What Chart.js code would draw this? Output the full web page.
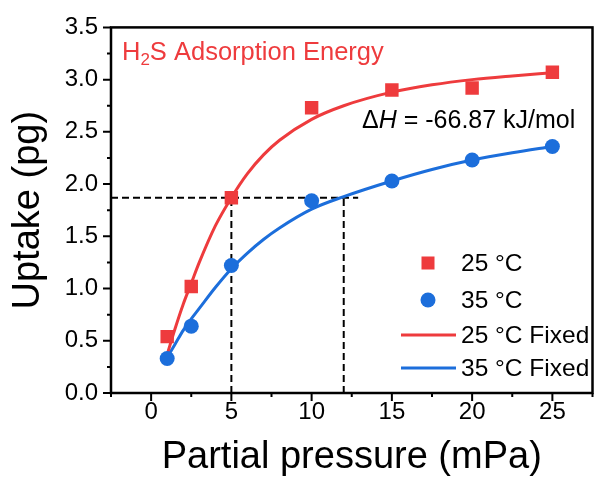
<!DOCTYPE html>
<html>
<head>
<meta charset="utf-8">
<script src="https://cdn.jsdelivr.net/npm/chart.js@4.4.1/dist/chart.umd.min.js"></script>
<style>
  html, body { margin: 0; padding: 0; background: #fff; }
  #wrap { width: 602px; height: 480px; position: relative; }
</style>
</head>
<body>
<div id="wrap"><canvas id="uptake-chart"></canvas></div>
<script>
// isoterme H2S a 25 e 35 gradi: punti misurati + curva di fit
const pressure = [1, 2.5, 5, 10, 15, 20, 25];
const uptake25 = [0.54, 1.02, 1.87, 2.73, 2.90, 2.92, 3.07];
const uptake35 = [0.33, 0.64, 1.22, 1.84, 2.03, 2.23, 2.36];

const fitPressure = [1, 1.5, 2, 2.5, 3, 4, 5, 6, 7, 8, 10, 12, 15, 17.5, 20, 22.5, 25];
const fit25 = [0.37, 0.62, 0.85, 1.05, 1.25, 1.60, 1.87, 2.10, 2.28, 2.42, 2.62, 2.75, 2.88, 2.95, 3.00, 3.035, 3.065];
const fit35 = [0.34, 0.47, 0.60, 0.71, 0.81, 1.01, 1.19, 1.34, 1.47, 1.58, 1.76, 1.88, 2.03, 2.14, 2.23, 2.30, 2.36];

// linee tratteggiate di riferimento (stesso uptake a 5 e 12 mPa)
const guideLevel = 1.87;
const guideH = { x: [-2.5, 12.9], y: [guideLevel, guideLevel] };
const guide5 = { x: [5, 5], y: [0, guideLevel] };
const guide12 = { x: [12, 12], y: [0, guideLevel] };

const xTicks = [0, 5, 10, 15, 20, 25];
const yTicks = [0, 0.5, 1.0, 1.5, 2.0, 2.5, 3.0, 3.5];

const RED = '#ee3b3d';
const BLUE = '#1c6edb';
const FONT = 'Arial, "Liberation Sans", sans-serif';

function pts(xs, ys) { return xs.map((x, i) => ({ x: x, y: ys[i] })); }

// cornice, tacche maggiori/minori, legenda e testi dentro il grafico
const decorPlugin = {
  id: 'decor',
  afterDraw(chart) {
    const ctx = chart.ctx;
    const a = chart.chartArea;
    const sx = chart.scales.x, sy = chart.scales.y;
    ctx.save();
    ctx.strokeStyle = '#000';
    ctx.lineWidth = 2.5;
    ctx.strokeRect(a.left, a.top, a.right - a.left, a.bottom - a.top);

    ctx.lineWidth = 2;
    ctx.beginPath();
    for (let v = -2.5; v <= 27.5; v += 2.5) {
      const px = sx.getPixelForValue(v);
      const len = (v % 5 === 0) ? 8 : 4;
      ctx.moveTo(px, a.bottom); ctx.lineTo(px, a.bottom + len);
    }
    for (let i = 0; i <= 14; i++) {
      const v = i * 0.25;
      const py = sy.getPixelForValue(v);
      const len = (i % 2 === 0) ? 8 : 4;
      ctx.moveTo(a.left, py); ctx.lineTo(a.left - len, py);
    }
    ctx.stroke();

    // titolo interno H2S
    ctx.fillStyle = RED;
    ctx.textBaseline = 'alphabetic';
    ctx.font = '25.5px ' + FONT;
    let tx = a.left + 11, ty = 60;
    ctx.fillText('H', tx, ty);
    tx += ctx.measureText('H').width;
    ctx.font = '17px ' + FONT;
    ctx.fillText('2', tx, ty + 5);
    tx += ctx.measureText('2').width;
    ctx.font = '25.5px ' + FONT;
    ctx.fillText('S Adsorption Energy', tx, ty);

    // entalpia
    ctx.fillStyle = '#000';
    tx = 362; ty = 128;
    ctx.font = '25px ' + FONT;
    ctx.fillText('\u0394', tx, ty);
    tx += ctx.measureText('\u0394').width;
    ctx.font = 'italic 25px ' + FONT;
    ctx.fillText('H', tx, ty);
    tx += ctx.measureText('H').width;
    ctx.font = '25px ' + FONT;
    ctx.fillText(' = -66.87 kJ/mol', tx, ty);

    // legenda
    const lx = 461, mx = 428;
    ctx.font = '24.5px ' + FONT;
    ctx.textBaseline = 'middle';
    ctx.fillStyle = RED;
    ctx.fillRect(mx - 6.5, 263 - 6.5, 13, 13);
    ctx.fillStyle = BLUE;
    ctx.beginPath(); ctx.arc(mx, 300, 7.5, 0, Math.PI * 2); ctx.fill();
    ctx.lineWidth = 3;
    ctx.strokeStyle = RED;
    ctx.beginPath(); ctx.moveTo(401, 335); ctx.lineTo(456, 335); ctx.stroke();
    ctx.strokeStyle = BLUE;
    ctx.beginPath(); ctx.moveTo(401, 368); ctx.lineTo(456, 368); ctx.stroke();
    ctx.fillStyle = '#000';
    ctx.fillText('25 \u00b0C', lx, 264);
    ctx.fillText('35 \u00b0C', lx, 301);
    ctx.fillText('25 \u00b0C Fixed', lx, 336);
    ctx.fillText('35 \u00b0C Fixed', lx, 369);
    ctx.restore();
  }
};

const dashed = {
  type: 'line', borderColor: '#000', borderWidth: 2, borderDash: [7, 4],
  pointRadius: 0, fill: false, order: 3
};

new Chart(document.getElementById('uptake-chart'), {
  data: {
    datasets: [
      { type: 'scatter', label: '25 °C', data: pts(pressure, uptake25),
        pointStyle: 'rect', pointRadius: 9.5, backgroundColor: RED, borderWidth: 0, order: 0 },
      { type: 'scatter', label: '35 °C', data: pts(pressure, uptake35),
        pointStyle: 'circle', pointRadius: 7.5, backgroundColor: BLUE, borderWidth: 0, order: 0 },
      { type: 'line', label: '25 °C Fixed', data: pts(fitPressure, fit25),
        borderColor: RED, borderWidth: 3, pointRadius: 0, cubicInterpolationMode: 'monotone', order: 1 },
      { type: 'line', label: '35 °C Fixed', data: pts(fitPressure, fit35),
        borderColor: BLUE, borderWidth: 3, pointRadius: 0, cubicInterpolationMode: 'monotone', order: 1 },
      Object.assign({ data: pts(guideH.x, guideH.y) }, dashed),
      Object.assign({ data: pts(guide5.x, guide5.y) }, dashed),
      Object.assign({ data: pts(guide12.x, guide12.y) }, dashed)
    ]
  },
  options: {
    responsive: true,
    maintainAspectRatio: false,
    animation: false,
    layout: { padding: { top: 27, right: 5, left: 0, bottom: 0 } },
    plugins: { legend: { display: false }, tooltip: { enabled: false } },
    scales: {
      x: {
        type: 'linear', min: -2.5, max: 27.5,
        afterBuildTicks: s => { s.ticks = xTicks.map(v => ({ value: v })); },
        afterFit: s => { s.height = 87; },
        grid: { display: false, drawTicks: false },
        border: { display: false },
        ticks: { color: '#000', font: { family: FONT, size: 24 }, padding: 5, maxRotation: 0 },
        title: { display: true, text: 'Partial pressure (mPa)', color: '#000',
                 font: { family: FONT, size: 38 }, padding: { top: 0, bottom: 0 } }
      },
      y: {
        type: 'linear', min: 0, max: 3.5,
        afterBuildTicks: s => { s.ticks = yTicks.map(v => ({ value: v })); },
        afterFit: s => { s.width = 111; },
        grid: { display: false, drawTicks: false },
        border: { display: false },
        ticks: { color: '#000', font: { family: FONT, size: 24 }, padding: 13,
                 callback: v => Number(v).toFixed(1) },
        title: { display: true, text: 'Uptake (pg)', color: '#000',
                 font: { family: FONT, size: 38 }, padding: { top: 6, bottom: 0 } }
      }
    }
  },
  plugins: [decorPlugin]
});
</script>
</body>
</html>
